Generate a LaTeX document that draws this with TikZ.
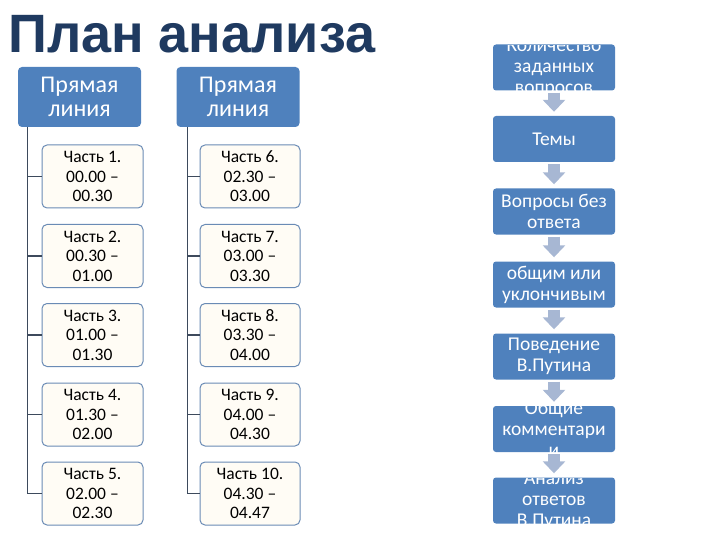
\documentclass[tikz,border=0pt]{standalone}
\usepackage{fontspec}
\setmainfont{Carlito}
\newfontfamily\titlefont{Liberation Sans}
\usepackage{tikz}
\usetikzlibrary{positioning,arrows.meta,calc}
\definecolor{navy}{HTML}{1F3A60}
\definecolor{boxblue}{HTML}{4F81BD}
\definecolor{partedge}{HTML}{6A8BB5}
\definecolor{partfill}{HTML}{FFFCF5}
\definecolor{treeline}{HTML}{3D4A5C}
\definecolor{arrblue}{HTML}{A7B7D3}

\begin{document}
\begin{tikzpicture}[
    x=1pt, y=-1pt,
    hdr/.style={fill=boxblue, rounded corners=4pt, minimum width=123pt, minimum height=60pt, align=center, inner sep=2pt, text=white, font=\fontsize{24}{24}\selectfont},
    part/.style={draw=partedge, line width=1pt, fill=partfill, rounded corners=5pt, minimum height=63pt, align=center, inner sep=2pt, font=\fontsize{17.5}{19.5}\selectfont},
    rbox/.style={fill=boxblue, rounded corners=3pt, minimum width=122pt, minimum height=46pt, inner sep=0pt},
    tree/.style={treeline, line width=1.2pt},
    barr/.style={-{Triangle[width=22pt,length=12pt]}, line width=12pt, arrblue},
  ]
  \useasboundingbox (0,0) rectangle (720,540);
  % title
  \node[anchor=base west, inner sep=0pt, text=navy, font=\titlefont\bfseries\fontsize{54}{56}\selectfont] (title) at (8,53) {План анализа};
  % left tree
  \node[hdr] (h1) at (79.5,97) {Прямая\\линия};
  \node[hdr] (h2) at (238,97) {Прямая\\линия};
  \foreach \n/\y/\t in {1/176.5/{Часть 1.\\00.00 –\\00.30}, 2/256/{Часть 2.\\00.30 –\\01.00}, 3/335/{Часть 3.\\01.00 –\\01.30}, 4/414.5/{Часть 4.\\01.30 –\\02.00}, 5/493.5/{Часть 5.\\02.00 –\\02.30}}{
    \node[part, minimum width=101pt] (p\n) at (92.5,\y) {\t};
    \draw[tree] ([xshift=10pt]h1.south west |- p\n.west) -- (p\n.west);
  }
  \foreach \n/\y/\t in {6/176.5/{Часть 6.\\02.30 –\\03.00}, 7/256/{Часть 7.\\03.00 –\\03.30}, 8/335/{Часть 8.\\03.30 –\\04.00}, 9/414.5/{Часть 9.\\04.00 –\\04.30}, 10/493.5/{Часть 10.\\04.30 –\\04.47}}{
    \node[part, minimum width=100pt] (p\n) at (250,\y) {\t};
    \draw[tree] ([xshift=11pt]h2.south west |- p\n.west) -- (p\n.west);
  }
  \draw[tree] ([xshift=10pt]h1.south west) -- ([xshift=10pt]h1.south west |- p5.west);
  \draw[tree] ([xshift=11pt]h2.south west) -- ([xshift=11pt]h2.south west |- p10.west);
  % right column
  \foreach \n/\y/\t in {1/67.5/{Количество\\заданных\\вопросов}, 2/139/{Темы}, 3/211.5/{Вопросы без\\ответа}, 4/284.5/{общим или\\уклончивым}, 5/356.5/{Поведение\\В.Путина}, 6/429/{Общие\\комментари\\и}, 7/500.5/{Анализ\\ответов\\В.Путина}}{
    \node[rbox, path picture={\node[text=white, align=center, inner sep=0pt, font=\fontsize{19.5}{21}\selectfont] at (path picture bounding box.center) {\t};}] (r\n) at (554,\y) {};
  }
  \foreach \a/\b in {1/2, 2/3, 3/4, 4/5, 5/6, 6/7}{
    \draw[barr] ([yshift=-2pt]r\a.south) -- ([yshift=4pt]r\b.north);
  }
\end{tikzpicture}
\end{document}
